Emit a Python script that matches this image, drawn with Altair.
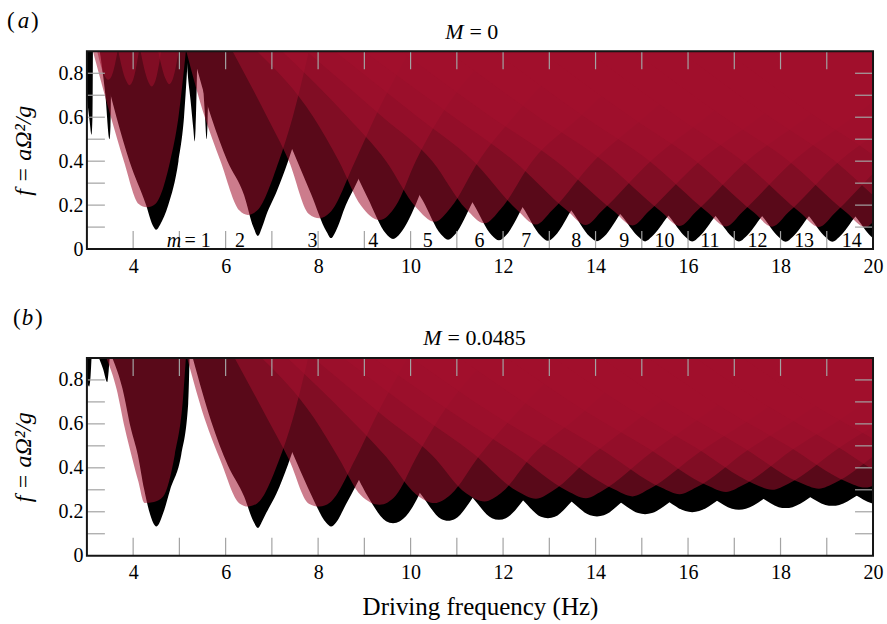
import altair as alt
import pandas as pd

FONT = "Liberation Serif"
W, H = 787, 198
RED = "#A3112D"
RED_OPACITY = 0.55
TICK_COLOR = "#a3a3a3"

X_DOMAIN = [3, 20]
Y_DOMAIN = [0, 0.9]
X_LABEL_VALUES = [4, 6, 8, 10, 12, 14, 16, 18, 20]
Y_LABEL_VALUES = [0, 0.2, 0.4, 0.6, 0.8]
X_TICK_VALUES = [4, 5, 6, 7, 8, 9, 10, 11, 12, 13, 14, 15, 16, 17, 18, 19]
Y_TICK_VALUES = [0.1, 0.2, 0.3, 0.4, 0.5, 0.6, 0.7, 0.8]

M_NUMBERS = ["2", "3", "4", "5", "6", "7", "8", "9", "10", "11", "12", "13", "14"]
M_NUMBER_X = [6.31, 7.88, 9.19, 10.37, 11.49, 12.50, 13.58, 14.62, 15.49, 16.47, 17.50, 18.51, 19.54]
M_FIRST = "= 1"
M_FIRST_X = 5.11
M_SYMBOL_X = 5.04

M_VALUES = ["= 0", "= 0.0485"]
X_TITLE = "Driving frequency (Hz)"
Y_TITLE = "f = aΩ²/g"

# ---------- panel (a): lower boundaries of the instability tongues ----------
A_RED_X = [
    [3.13, 3.52, 3.80, 4.12, 4.30, 4.48, 4.80, 4.98, 5.14],
    [5.15, 5.55, 5.89, 6.30, 6.48, 6.68, 7.15, 7.45, 7.80],
    [6.15, 6.90, 7.37, 7.80, 8.03, 8.25, 8.80, 9.23, 9.98],
    [6.68, 7.90, 8.45, 8.93, 9.33, 9.68, 10.11, 10.63, 11.78],
    [7.22, 8.64, 9.47, 10.12, 10.52, 10.87, 11.47, 12.22, 13.57],
    [7.75, 9.40, 10.47, 11.20, 11.60, 11.95, 12.63, 13.65, 15.15],
    [8.36, 10.16, 11.36, 12.31, 12.71, 13.06, 13.96, 15.06, 16.71],
    [8.99, 10.94, 12.24, 13.39, 13.79, 14.14, 15.19, 16.39, 18.19],
    [9.80, 11.75, 13.15, 14.40, 14.80, 15.15, 16.25, 17.55, 19.30],
    [10.82, 12.77, 14.17, 15.42, 15.82, 16.17, 17.27, 18.57, 20.32],
    [11.82, 13.77, 15.17, 16.42, 16.82, 17.17, 18.27, 19.57, 21.32],
    [12.82, 14.77, 16.17, 17.42, 17.82, 18.17, 19.27, 20.57, 22.32],
    [13.83, 15.78, 17.18, 18.43, 18.83, 19.18, 20.28, 21.58, 23.33],
    [14.83, 16.78, 18.18, 19.43, 19.83, 20.18, 21.28, 22.58, 24.33],
    [15.83, 17.78, 19.18, 20.43, 20.83, 21.18, 22.28, 23.58, 25.33],
    [16.83, 18.78, 20.18, 21.43, 21.83, 22.18, 23.28, 24.58, 26.33],
]
A_RED_F = [
    [0.9, 0.6, 0.4, 0.205, 0.19, 0.205, 0.4, 0.6, 0.9],
    [0.9, 0.6, 0.4, 0.175, 0.155, 0.175, 0.4, 0.6, 0.9],
    [0.9, 0.6, 0.4, 0.16, 0.14, 0.165, 0.4, 0.6, 0.9],
    [0.9, 0.6, 0.4, 0.197, 0.132, 0.197, 0.4, 0.6, 0.9],
    [0.9, 0.6, 0.4, 0.189, 0.124, 0.189, 0.4, 0.6, 0.9],
    [0.9, 0.6, 0.4, 0.182, 0.117, 0.182, 0.4, 0.6, 0.9],
    [0.9, 0.6, 0.4, 0.177, 0.112, 0.177, 0.4, 0.6, 0.9],
    [0.9, 0.6, 0.4, 0.174, 0.109, 0.174, 0.4, 0.6, 0.9],
    [0.9, 0.6, 0.4, 0.172, 0.107, 0.172, 0.4, 0.6, 0.9],
    [0.9, 0.6, 0.4, 0.170, 0.105, 0.170, 0.4, 0.6, 0.9],
    [0.9, 0.6, 0.4, 0.168, 0.103, 0.168, 0.4, 0.6, 0.9],
    [0.9, 0.6, 0.4, 0.167, 0.102, 0.167, 0.4, 0.6, 0.9],
    [0.9, 0.6, 0.4, 0.165, 0.100, 0.165, 0.4, 0.6, 0.9],
    [0.9, 0.6, 0.4, 0.165, 0.100, 0.165, 0.4, 0.6, 0.9],
    [0.9, 0.6, 0.4, 0.165, 0.100, 0.165, 0.4, 0.6, 0.9],
    [0.9, 0.6, 0.4, 0.165, 0.100, 0.165, 0.4, 0.6, 0.9],
]
A_NARROW_X = [
    [3.20, 3.38, 3.46, 3.54, 3.68],
    [3.66, 3.84, 3.92, 4.00, 4.14],
    [4.14, 4.32, 4.40, 4.48, 4.62],
    [4.52, 4.70, 4.78, 4.86, 5.00],
]
A_NARROW_F = [
    [0.92, 0.79, 0.77, 0.79, 0.92],
    [0.92, 0.77, 0.745, 0.77, 0.92],
    [0.92, 0.765, 0.74, 0.765, 0.92],
    [0.92, 0.775, 0.75, 0.775, 0.92],
]
A_BLACK_X = [
    [3.28, 3.64, 3.92, 4.28, 4.42, 4.50, 4.58, 4.76, 4.98, 5.10, 5.19],
    [5.28, 5.69, 6.04, 6.40, 6.60, 6.70, 6.79, 6.88, 7.10, 7.35, 7.65, 8.10],
    [6.55, 7.15, 7.55, 7.85, 8.18, 8.28, 8.38, 8.60, 8.83, 9.05, 9.40, 10.00],
    [6.92, 8.14, 8.69, 9.07, 9.47, 9.62, 9.77, 10.17, 10.45, 10.97, 12.12],
    [7.46, 8.88, 9.71, 10.26, 10.66, 10.81, 10.96, 11.36, 11.81, 12.56, 13.91],
    [8.01, 9.66, 10.73, 11.36, 11.76, 11.91, 12.06, 12.46, 12.99, 14.01, 15.51],
    [8.57, 10.37, 11.57, 12.42, 12.82, 12.97, 13.12, 13.52, 14.27, 15.37, 17.02],
    [9.18, 11.13, 12.43, 13.48, 13.88, 14.03, 14.18, 14.58, 15.48, 16.68, 18.48],
    [10.02, 11.97, 13.37, 14.57, 14.92, 15.07, 15.22, 15.57, 16.57, 17.87, 19.62],
    [11.04, 12.99, 14.39, 15.59, 15.94, 16.09, 16.24, 16.59, 17.59, 18.89, 20.64],
    [12.05, 14.00, 15.40, 16.60, 16.95, 17.10, 17.25, 17.60, 18.60, 19.90, 21.65],
    [13.06, 15.01, 16.41, 17.61, 17.96, 18.11, 18.26, 18.61, 19.61, 20.91, 22.66],
    [14.07, 16.02, 17.42, 18.62, 18.97, 19.12, 19.27, 19.62, 20.62, 21.92, 23.67],
    [15.07, 17.02, 18.42, 19.62, 19.97, 20.12, 20.27, 20.62, 21.62, 22.92, 24.67],
    [16.07, 18.02, 19.42, 20.62, 20.97, 21.12, 21.27, 21.62, 22.62, 23.92, 25.67],
]
A_BLACK_F = [
    [0.9, 0.6, 0.4, 0.2, 0.11, 0.088, 0.11, 0.2, 0.4, 0.6, 0.9],
    [0.9, 0.6, 0.4, 0.245, 0.1, 0.06, 0.1, 0.155, 0.26, 0.4, 0.6, 0.9],
    [0.9, 0.6, 0.4, 0.25, 0.08, 0.05, 0.08, 0.2, 0.3, 0.4, 0.6, 0.9],
    [0.9, 0.6, 0.4, 0.233, 0.07, 0.046, 0.07, 0.233, 0.4, 0.6, 0.9],
    [0.9, 0.6, 0.4, 0.222, 0.066, 0.042, 0.066, 0.222, 0.4, 0.6, 0.9],
    [0.9, 0.6, 0.4, 0.205, 0.062, 0.040, 0.062, 0.205, 0.4, 0.6, 0.9],
    [0.9, 0.6, 0.4, 0.192, 0.060, 0.038, 0.060, 0.192, 0.4, 0.6, 0.9],
    [0.9, 0.6, 0.4, 0.174, 0.056, 0.036, 0.056, 0.174, 0.4, 0.6, 0.9],
    [0.9, 0.6, 0.4, 0.150, 0.057, 0.035, 0.057, 0.150, 0.4, 0.6, 0.9],
    [0.9, 0.6, 0.4, 0.149, 0.056, 0.034, 0.056, 0.149, 0.4, 0.6, 0.9],
    [0.9, 0.6, 0.4, 0.149, 0.056, 0.034, 0.056, 0.149, 0.4, 0.6, 0.9],
    [0.9, 0.6, 0.4, 0.148, 0.055, 0.033, 0.055, 0.148, 0.4, 0.6, 0.9],
    [0.9, 0.6, 0.4, 0.148, 0.055, 0.033, 0.055, 0.148, 0.4, 0.6, 0.9],
    [0.9, 0.6, 0.4, 0.148, 0.055, 0.033, 0.055, 0.148, 0.4, 0.6, 0.9],
    [0.9, 0.6, 0.4, 0.148, 0.055, 0.033, 0.055, 0.148, 0.4, 0.6, 0.9],
]
A_SPIKE_X = [
    [2.94, 3.00, 3.06, 3.10, 3.12, 3.13],
    [3.28, 3.40, 3.49, 3.51, 3.53],
    [5.15, 5.18, 5.24, 5.30, 5.33, 5.35, 5.37, 5.39],
    [5.47, 5.55, 5.59, 5.61, 5.64],
]
A_SPIKE_F = [
    [0.9, 0.70, 0.58, 0.52, 0.60, 0.9],
    [0.9, 0.70, 0.50, 0.56, 0.9],
    [0.9, 0.80, 0.68, 0.55, 0.49, 0.55, 0.70, 0.9],
    [0.9, 0.62, 0.50, 0.58, 0.9],
]

# ---------- panel (b) ----------
B_RED_X = [[3.42, 3.64, 3.82, 3.96, 4.11, 4.25, 4.45, 4.65, 4.90, 5.08, 5.14]] + A_RED_X[1:]
B_RED_F = [
    [0.9, 0.76, 0.58, 0.46, 0.34, 0.24, 0.245, 0.27, 0.46, 0.72, 0.9],
    [0.914, 0.621, 0.432, 0.238, 0.224, 0.238, 0.432, 0.621, 0.914],
    [0.917, 0.625, 0.438, 0.237, 0.224, 0.241, 0.438, 0.625, 0.917],
    [0.920, 0.630, 0.443, 0.274, 0.232, 0.274, 0.443, 0.630, 0.920],
    [0.923, 0.634, 0.450, 0.279, 0.240, 0.279, 0.450, 0.634, 0.923],
    [0.926, 0.638, 0.456, 0.284, 0.247, 0.284, 0.456, 0.638, 0.926],
    [0.930, 0.644, 0.464, 0.293, 0.259, 0.293, 0.464, 0.644, 0.930],
    [0.931, 0.646, 0.467, 0.295, 0.262, 0.295, 0.467, 0.646, 0.931],
    [0.934, 0.649, 0.472, 0.302, 0.270, 0.302, 0.472, 0.649, 0.934],
    [0.937, 0.654, 0.478, 0.310, 0.280, 0.310, 0.478, 0.654, 0.937],
    [0.940, 0.659, 0.485, 0.319, 0.290, 0.319, 0.485, 0.659, 0.940],
    [0.943, 0.664, 0.491, 0.328, 0.300, 0.328, 0.491, 0.664, 0.943],
    [0.945, 0.666, 0.494, 0.332, 0.305, 0.332, 0.494, 0.666, 0.945],
    [0.947, 0.669, 0.497, 0.337, 0.310, 0.337, 0.497, 0.669, 0.947],
    [0.950, 0.674, 0.503, 0.346, 0.320, 0.346, 0.503, 0.674, 0.950],
    [0.953, 0.678, 0.511, 0.354, 0.330, 0.354, 0.511, 0.678, 0.953],
]
B_BLACK_X = [[3.55, 3.77, 3.95, 4.10, 4.24, 4.35, 4.505, 4.66, 4.80, 5.04, 5.19, 5.22]] + A_BLACK_X[1:]
B_BLACK_F = [
    [0.9, 0.76, 0.58, 0.46, 0.3, 0.2, 0.133, 0.2, 0.3, 0.46, 0.69, 0.9],
    [0.907, 0.61, 0.415, 0.269, 0.157, 0.126, 0.157, 0.195, 0.283, 0.415, 0.61, 0.907],
    [0.908, 0.613, 0.419, 0.278, 0.149, 0.133, 0.149, 0.233, 0.324, 0.419, 0.613, 0.908],
    [0.911, 0.616, 0.424, 0.272, 0.157, 0.148, 0.157, 0.272, 0.424, 0.616, 0.911],
    [0.913, 0.619, 0.429, 0.270, 0.167, 0.159, 0.167, 0.270, 0.429, 0.619, 0.913],
    [0.914, 0.621, 0.431, 0.259, 0.171, 0.164, 0.171, 0.259, 0.431, 0.621, 0.914],
    [0.915, 0.623, 0.434, 0.255, 0.177, 0.171, 0.177, 0.255, 0.434, 0.623, 0.915],
    [0.917, 0.625, 0.437, 0.247, 0.184, 0.179, 0.184, 0.247, 0.437, 0.625, 0.917],
    [0.919, 0.628, 0.441, 0.239, 0.194, 0.189, 0.194, 0.239, 0.441, 0.628, 0.919],
    [0.921, 0.631, 0.445, 0.245, 0.203, 0.198, 0.203, 0.245, 0.445, 0.631, 0.921],
    [0.923, 0.634, 0.450, 0.254, 0.214, 0.209, 0.214, 0.254, 0.450, 0.634, 0.923],
    [0.925, 0.637, 0.454, 0.261, 0.221, 0.217, 0.221, 0.261, 0.454, 0.637, 0.925],
    [0.928, 0.640, 0.459, 0.269, 0.231, 0.227, 0.231, 0.269, 0.459, 0.640, 0.928],
    [0.930, 0.643, 0.463, 0.276, 0.239, 0.235, 0.239, 0.276, 0.463, 0.643, 0.930],
    [0.932, 0.646, 0.467, 0.283, 0.247, 0.243, 0.247, 0.283, 0.467, 0.646, 0.932],
]
B_SPIKE_X = [
    [2.95, 3.00, 3.05, 3.08, 3.10],
    [3.22, 3.35, 3.44, 3.47, 3.50],
]
B_SPIKE_F = [
    [0.9, 0.80, 0.77, 0.82, 0.9],
    [0.92, 0.85, 0.79, 0.84, 0.92],
]


def to_frame(groups, tag):
    rows = []
    for gi, (xs_list, fs_list) in enumerate(groups):
        for i, (xs, fs) in enumerate(zip(xs_list, fs_list)):
            for x, f in zip(xs, fs):
                rows.append({"tongue": f"{tag}{gi}_{i}", "x": x, "f": f})
    return pd.DataFrame(rows)


XS = alt.Scale(domain=X_DOMAIN, nice=False, zero=False)
YS = alt.Scale(domain=Y_DOMAIN, nice=False, zero=False)


def txt(text, x, y, size, italic=False, align="left"):
    return alt.Chart(pd.DataFrame({"t": [text]})).mark_text(
        font=FONT, fontSize=size, fontStyle="italic" if italic else "normal",
        align=align, baseline="alphabetic", color="black"
    ).encode(text="t:N", x=alt.value(x), y=alt.value(y))


def panel(black_df, red_df, letter, letter_pos, m_value, m_pos, x_title, with_m_labels):
    x_axis = alt.Axis(
        values=X_LABEL_VALUES, labelFlush=False, ticks=False, tickSize=0, domain=False,
        grid=False, labelPadding=7, labelFontSize=20, labelFont=FONT, labelColor="black",
        title=x_title, titleFont=FONT, titleFontSize=25, titleFontWeight="normal",
        titleColor="black", titleY=59, titleBaseline="alphabetic",
    )
    y_axis = alt.Axis(
        values=Y_LABEL_VALUES, format="~g", ticks=False, tickSize=0, domain=False, grid=False,
        labelPadding=4, labelFontSize=20, labelFont=FONT, labelColor="black",
        title=Y_TITLE, titleFont=FONT, titleFontSize=24, titleFontStyle="italic",
        titleFontWeight="normal", titleColor="black", titleAngle=270, titleX=-56, titleY=99,
        titleAlign="center", titleBaseline="alphabetic",
    )
    X = lambda field: alt.X(field, scale=XS, axis=x_axis)
    Y = lambda field: alt.Y(field, scale=YS, axis=y_axis, stack=None)

    black = alt.Chart(black_df).mark_area(
        color="black", opacity=1, interpolate="monotone", clip=True
    ).encode(x=X("x:Q"), y=Y("f:Q"), y2=alt.value(0), detail="tongue:N")
    red = alt.Chart(red_df).mark_area(
        color=RED, opacity=RED_OPACITY, interpolate="monotone", clip=True
    ).encode(x=X("x:Q"), y=Y("f:Q"), y2=alt.value(0), detail="tongue:N")

    xt = pd.DataFrame({"x": X_TICK_VALUES})
    yt = pd.DataFrame({"f": Y_TICK_VALUES})
    rule = dict(color=TICK_COLOR, strokeWidth=1.2)
    t_bottom = alt.Chart(xt).mark_rule(**rule).encode(
        x=X("x:Q"), y=alt.value(H - 18), y2=alt.value(H))
    t_top = alt.Chart(xt).mark_rule(**rule).encode(
        x=X("x:Q"), y=alt.value(0), y2=alt.value(18))
    t_left = alt.Chart(yt).mark_rule(**rule).encode(
        y=Y("f:Q"), x=alt.value(0), x2=alt.value(18))
    t_right = alt.Chart(yt).mark_rule(**rule).encode(
        y=Y("f:Q"), x=alt.value(W - 18), x2=alt.value(W))
    frame = alt.Chart(pd.DataFrame({"k": [0]})).mark_rect(
        fillOpacity=0, stroke="#151515", strokeWidth=2
    ).encode(x=alt.value(0), x2=alt.value(W), y=alt.value(0), y2=alt.value(H))

    lx0, lx1, lx2, ly = letter_pos
    texts = [
        txt("(", lx0, ly, 23),
        txt(letter, lx1, ly, 23, italic=True, align="center"),
        txt(")", lx2, ly, 23),
        txt("M", m_pos[0], m_pos[2], 22, italic=True, align="right"),
        txt(m_value, m_pos[1], m_pos[2], 22),
    ]
    layers = [black, red, t_bottom, t_top, t_left, t_right, frame] + texts
    if with_m_labels:
        mdf = pd.DataFrame({"t": M_NUMBERS, "x": M_NUMBER_X})
        mnum = alt.Chart(mdf).mark_text(
            font=FONT, fontSize=20, align="center", baseline="alphabetic", color="black"
        ).encode(text="t:N", x=X("x:Q"), y=alt.value(196))
        m_sym = alt.Chart(pd.DataFrame({"t": ["m"], "x": [M_SYMBOL_X]})).mark_text(
            font=FONT, fontSize=20, fontStyle="italic", align="right", baseline="alphabetic",
            color="black"
        ).encode(text="t:N", x=X("x:Q"), y=alt.value(196))
        m_first = alt.Chart(pd.DataFrame({"t": [M_FIRST], "x": [M_FIRST_X]})).mark_text(
            font=FONT, fontSize=20, align="left", baseline="alphabetic", color="black"
        ).encode(text="t:N", x=X("x:Q"), y=alt.value(196))
        layers += [mnum, m_sym, m_first]
    return alt.layer(*layers).properties(width=W, height=H)


a_black = to_frame([(A_BLACK_X, A_BLACK_F), (A_SPIKE_X, A_SPIKE_F)], "ab")
a_red = to_frame([(A_RED_X, A_RED_F), (A_NARROW_X, A_NARROW_F)], "ar")
b_black = to_frame([(B_BLACK_X, B_BLACK_F), (B_SPIKE_X, B_SPIKE_F)], "bb")
b_red = to_frame([(B_RED_X, B_RED_F)], "br")

pa = panel(a_black, a_red, "a", (-80, -63.5, -56, -23), M_VALUES[0], (377, 383, -12), None, True)
pb = panel(b_black, b_red, "b", (-74, -59.5, -52, -33), M_VALUES[1], (355, 361, -13), X_TITLE, False)

chart = alt.vconcat(pa, pb, spacing=109, bounds="flush").properties(
    padding={"left": 7, "top": 10, "right": 4, "bottom": 5}
).configure(font=FONT).configure_view(strokeOpacity=0)

chart.save("out.html", embed_options={"renderer": "svg", "actions": False})
